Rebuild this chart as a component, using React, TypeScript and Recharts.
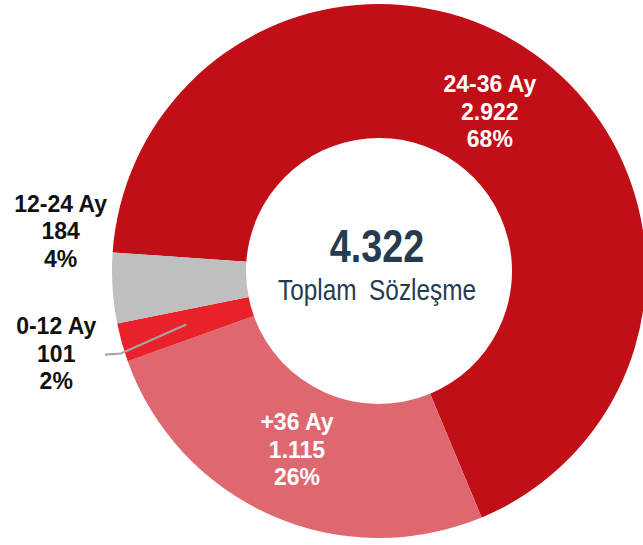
import React from 'react';
import { PieChart, Pie, Cell } from 'recharts';

const categories = ['24-36 Ay', '+36 Ay', '0-12 Ay', '12-24 Ay'];
const values = [2922, 1115, 101, 184];
const colors = ['#C00F17', '#DF6870', '#E8212A', '#BFBFBF'];
const labelColors = ['#FFFFFF', '#FFFFFF', '#111111', '#111111'];
const centerLabel = 'Toplam Sözleşme';

// label placement: radius from center, extra vertical shift
const labelPlacement = [
  { r: 190, dy: 3 },
  { r: 203, dy: 1 },
  { r: 335, dy: 1 },
  { r: 319, dy: -52 },
];

const data = categories.map((name, i) => ({ name, value: values[i] }));
const total = values.reduce((a, b) => a + b, 0);
const fmt = (n: number) => String(n).replace(/\B(?=(\d{3})+(?!\d))/g, '.');
const RAD = Math.PI / 180;

const CX = 379;
const CY = 271;

const renderLabel = (props: any) => {
  const { cx, cy, midAngle, index, value } = props;
  const p = labelPlacement[index];
  const x = cx + p.r * Math.cos(-midAngle * RAD);
  const y = cy + p.r * Math.sin(-midAngle * RAD) + p.dy;
  const pct = Math.round((value / total) * 100);
  const lines = [categories[index], fmt(value), pct + '%'];
  return (
    <text
      x={x}
      y={y}
      textAnchor="middle"
      fill={labelColors[index]}
      fontFamily="'Liberation Sans', Arial, sans-serif"
      fontWeight="bold"
      fontSize={23}
    >
      {lines.map((l, k) => (
        <tspan key={k} x={x} y={y + (k - 1) * 27.5}>
          {l}
        </tspan>
      ))}
    </text>
  );
};

const renderLabelLine = (props: any) => {
  const { cx, cy, midAngle, index, innerRadius, outerRadius } = props;
  if (categories[index] !== '0-12 Ay') return <g />;
  const mid = (innerRadius + outerRadius) / 2;
  const a = -midAngle * RAD;
  const x1 = cx + mid * Math.cos(a);
  const y1 = cy + mid * Math.sin(a);
  const x2 = cx + (outerRadius + 3) * Math.cos(a - 1.6 * RAD);
  const y2 = cy + (outerRadius + 3) * Math.sin(a - 1.6 * RAD) + 3;
  const x3 = x2 - 16;
  return (
    <polyline
      points={`${x1},${y1} ${x2},${y2} ${x3},${y2 + 1}`}
      fill="none"
      stroke="#A6A6A6"
      strokeWidth={2.2}
    />
  );
};

export default function App() {
  return (
    <div style={{ position: 'absolute', left: 0, top: 0, background: '#fff' }}>
      <PieChart width={643} height={545} margin={{ top: 0, right: 0, bottom: 0, left: 0 }}>
        <Pie
          data={data}
          dataKey="value"
          nameKey="name"
          cx={CX}
          cy={CY}
          innerRadius={133}
          outerRadius={267}
          startAngle={176}
          endAngle={-184}
          stroke="none"
          label={renderLabel}
          labelLine={renderLabelLine}
          isAnimationActive={false}
        >
          {data.map((d, i) => (
            <Cell key={d.name} fill={colors[i]} />
          ))}
        </Pie>
        <text
          transform={`translate(${CX - 2},262) scale(0.82,1)`}
          x={0}
          y={0}
          textAnchor="middle"
          fill="#263B50"
          fontFamily="'Liberation Sans', Arial, sans-serif"
          fontWeight="bold"
          fontSize={46}
        >
          {fmt(total)}
        </text>
        <text
          transform={`translate(${CX - 2},300) scale(0.84,1)`}
          x={0}
          y={0}
          textAnchor="middle"
          fill="#263B50"
          fontFamily="'Liberation Sans', Arial, sans-serif"
          fontSize={29}
          wordSpacing={7}
        >
          {centerLabel}
        </text>
      </PieChart>
    </div>
  );
}
